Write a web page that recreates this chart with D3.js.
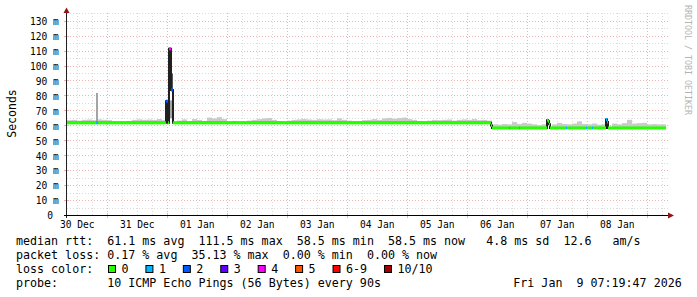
<!DOCTYPE html>
<html><head><meta charset="utf-8">
<script src="https://cdn.jsdelivr.net/npm/d3@7/dist/d3.min.js"></script>
<style>
html,body{margin:0;padding:0;background:#fff;}
svg{display:block;}
text{font-family:"DejaVu Sans Mono",monospace;white-space:pre;}
</style></head><body>
<svg id="chart" width="697" height="297"></svg>
<script>
// ---------- data ----------
const START = "2025-12-30T07:53:00Z";
const END = "2026-01-09T07:53:00Z";
const DATA_END = "2026-01-09T07:29:00Z";
const yTicks = [0,10,20,30,40,50,60,70,80,90,100,110,120,130];
const yMinorTicks = [5,15,25,35,45,55,65,75,85,95,105,115,125,135];

// smoke (highest ping) in 2-hour bins from START, ms
const smokeBinHours = 2;
const smokeTop = [
63.8,64.0,63.5,64.0,64.2,63.8,64.3,64.0,63.8,63.0,
63.0,63.0,63.3,64.0,64.3,64.0,64.2,64.0,64.5,63.8,
64.0,63.5,63.5,64.3,63.2,64.5,64.0,63.3,65.5,65.0,
65.8,64.5,63.0,63.3,63.0,63.0,63.5,64.0,64.5,65.0,
65.2,64.0,63.2,63.0,63.5,64.0,64.3,64.5,64.2,64.0,
64.4,64.2,64.3,63.8,65.0,64.0,63.5,63.0,63.2,63.8,
64.0,64.5,64.0,65.0,65.3,64.8,65.2,65.5,64.5,64.0,
63.3,63.0,63.5,64.0,63.8,64.0,64.2,63.5,64.0,64.3,
64.0,64.5,63.8,64.0,63.5,61.0,60.8,61.2,61.0,62.5,
61.3,62.0,61.5,61.0,60.5,61.0,60.8,61.0,62.0,61.2,
61.0,61.5,63.0,61.2,61.0,61.5,60.8,61.0,61.3,61.5,
61.0,61.8,64.0,61.5,61.8,62.0,61.0,61.2,61.0,61.0
];

// isolated smoke spikes
const spikeStart = ["2025-12-30T19:29:00Z","2026-01-01T00:41:00Z","2026-01-01T01:29:00Z"];
const spikeEnd   = ["2025-12-30T20:17:00Z","2026-01-01T01:53:00Z","2026-01-01T02:17:00Z"];
const spikeLow   = [62, 65, 84];
const spikeHigh  = [82, 77, 95];
const spikeDepth = [2, 2, 4];

// median rtt (step series) and lost pings out of 10
const medianTime = [
"2025-12-30T07:53:00Z","2025-12-30T19:29:00Z","2025-12-30T20:17:00Z",
"2025-12-31T23:29:00Z","2026-01-01T00:17:00Z","2026-01-01T00:41:00Z",
"2026-01-01T01:29:00Z","2026-01-01T02:17:00Z","2026-01-06T09:29:00Z",
"2026-01-06T09:53:00Z","2026-01-06T16:41:00Z","2026-01-06T17:05:00Z",
"2026-01-06T20:41:00Z","2026-01-06T21:05:00Z","2026-01-07T07:53:00Z",
"2026-01-07T08:17:00Z","2026-01-07T08:41:00Z","2026-01-07T09:05:00Z",
"2026-01-07T15:29:00Z","2026-01-07T15:53:00Z","2026-01-07T23:29:00Z",
"2026-01-07T23:53:00Z","2026-01-08T01:53:00Z","2026-01-08T02:17:00Z",
"2026-01-08T07:29:00Z","2026-01-08T07:53:00Z","2026-01-08T08:17:00Z",
"2026-01-09T07:29:00Z"];
const medianValue = [
62.0,62.0,62.0, 76.5,62.0,111.5, 84.0,62.0,60.3,
58.6,58.6,58.6, 58.6,58.6,63.8, 63.0,61.0,58.6,
58.6,58.6,58.6, 58.6,58.6,58.6, 64.3,62.5,58.6, 58.6];
const medianLoss = [
0,1,0, 2,0,4, 2,0,0,
0,1,0, 1,0,0, 0,0,0,
1,0,1, 0,1,0, 1,1,0, 0];

const lossLabels = ["0","1","2","3","4","5","6-9","10/10"];
const lossColors = ["#26ff00","#00b8ff","#0059ff","#5e00ff","#ff00ff","#ff5500","#ff0000","#a00000"];

const legendRtt  = "median rtt:  61.1 ms avg  111.5 ms max  58.5 ms min  58.5 ms now   4.8 ms sd  12.6   am/s";
const legendLoss = "packet loss: 0.17 % avg  35.13 % max  0.00 % min  0.00 % now";
const legendColorTitle = "loss color:";
const legendProbe = "probe:       10 ICMP Echo Pings (56 Bytes) every 90s";
const stamp = "Fri Jan  9 07:19:47 2026";
const yTitle = "Seconds";
const watermark = "RRDTOOL / TOBI OETIKER";

// ---------- drawing ----------
const svg = d3.select("#chart");
const parse = s => new Date(s);
const x = d3.scaleUtc().domain([parse(START), parse(END)]).range([67, 667]);
const y = d3.scaleLinear().domain([0, 135.5]).range([215.5, 13]);
const px = v => Math.floor(v) + 0.5;
const tEnd = parse(DATA_END);

const gridMinor = "#dcdcdc", gridMajor = "#eab4b4";
const g = svg.append("g");

// vertical grid
const hours6 = d3.utcHour.every(6).range(parse(START), parse(END));
const days = d3.utcDay.range(parse(START), parse(END));
g.selectAll(".vmin").data(hours6.filter(d => d.getUTCHours() !== 0)).join("line")
  .attr("x1", d => px(x(d))).attr("x2", d => px(x(d)))
  .attr("y1", 13).attr("y2", 215)
  .attr("stroke", gridMinor).attr("stroke-dasharray", "1,2");
g.selectAll(".vmaj").data(days).join("line")
  .attr("x1", d => px(x(d))).attr("x2", d => px(x(d)))
  .attr("y1", 13).attr("y2", 215)
  .attr("stroke", gridMajor).attr("stroke-dasharray", "1,2");
// horizontal grid
g.selectAll(".hmin").data(yMinorTicks.filter(v => y(v) > 13)).join("line")
  .attr("x1", 67).attr("x2", 668)
  .attr("y1", d => px(y(d))).attr("y2", d => px(y(d)))
  .attr("stroke", gridMinor).attr("stroke-dasharray", "1,2");
g.selectAll(".hmaj").data(yTicks.filter(v => v > 0)).join("line")
  .attr("x1", 67).attr("x2", 668)
  .attr("y1", d => px(y(d))).attr("y2", d => px(y(d)))
  .attr("stroke", gridMajor).attr("stroke-dasharray", "1,2");
// small ticks on axes
g.selectAll(".ytick").data(yTicks.filter(v => v > 0)).join("line")
  .attr("x1", 64).attr("x2", 69)
  .attr("y1", d => px(y(d))).attr("y2", d => px(y(d)))
  .attr("stroke", gridMajor);
g.selectAll(".xtick").data(days).join("line")
  .attr("x1", d => px(x(d))).attr("x2", d => px(x(d)))
  .attr("y1", 213).attr("y2", 218)
  .attr("stroke", gridMajor);

// median lookup
const mTimes = medianTime.map(parse);
const bis = d3.bisector(d => d).right;
const medianAt = t => medianValue[Math.max(0, bis(mTimes, t) - 1)];

// smoke
const plot = svg.append("g");
const binMs = smokeBinHours * 3600e3;
const smokeData = smokeTop.map((v, k) => {
  const t0 = new Date(parse(START).getTime() + k * binMs);
  let t1 = new Date(t0.getTime() + binMs);
  if (t1 > tEnd) t1 = tEnd;
  return {t0, t1, top: v, base: medianAt(t0)};
}).filter(d => d.t1 > d.t0);
plot.selectAll(".smoke").data(smokeData).join("rect")
  .attr("x", d => x(d.t0)).attr("width", d => x(d.t1) - x(d.t0))
  .attr("y", d => y(d.top)).attr("height", d => Math.max(0, y(d.base) - y(d.top)))
  .attr("fill", "#cacaca");
const shade = dpt => { const c = Math.round(190 / 5 * (5 - dpt)) + 50; return d3.rgb(c, c, c); };
plot.selectAll(".spike").data(spikeStart.map((s, i) => ({t0: parse(s), t1: parse(spikeEnd[i]), lo: spikeLow[i], hi: spikeHigh[i], d: spikeDepth[i]})))
  .join("rect")
  .attr("x", d => x(d.t0)).attr("width", d => x(d.t1) - x(d.t0))
  .attr("y", d => y(d.hi)).attr("height", d => y(d.lo) - y(d.hi))
  .attr("fill", d => shade(d.d));

// median line
const pts = mTimes.map((t, i) => ({t, v: medianValue[i], l: medianLoss[i]}));
plot.append("path").datum(pts)
  .attr("d", d3.line().x(d => x(d.t)).y(d => y(d.v)).curve(d3.curveStepAfter))
  .attr("fill", "none").attr("stroke", "#202020").attr("stroke-width", 2);

// loss coloured band
const lossIdx = l => l <= 5 ? l : (l < 10 ? 6 : 7);
plot.selectAll(".band").data(pts.slice(0, -1).map((d, i) => ({...d, t1: pts[i + 1].t})))
  .join("rect")
  .attr("x", d => x(d.t)).attr("width", d => x(d.t1) - x(d.t))
  .attr("y", d => y(d.v) - 1.5).attr("height", 3)
  .attr("fill", d => lossColors[lossIdx(d.l)]);

// axes
svg.append("line").attr("x1", 66.5).attr("x2", 66.5).attr("y1", 11).attr("y2", 218)
  .attr("stroke", "#202020");
svg.append("line").attr("x1", 64).attr("x2", 670).attr("y1", 215.5).attr("y2", 215.5)
  .attr("stroke", "#000");
svg.append("path").attr("d", d3.line()([[63.5, 13], [69.5, 13], [66.5, 7.5]]) + "Z").attr("fill", "#8e1616");
svg.append("path").attr("d", d3.line()([[668, 212.5], [668, 218.5], [674, 215.5]]) + "Z").attr("fill", "#8e1616");

// y labels
svg.selectAll(".ylab").data(yTicks).join("text")
  .attr("x", d => d === 0 ? 53 : 58.8).attr("y", d => y(d) + 3.8)
  .attr("text-anchor", "end").attr("font-size", "9.6px").attr("fill", "#000")
  .text(d => d === 0 ? "0" : d + " m");
// x labels (centred at noon of each day)
const fmt = d3.utcFormat("%d %b");
const labelDays = d3.utcDay.range(d3.utcDay.floor(parse(START)), parse(END))
  .map(d => d3.utcHour.offset(d, 12))
  .filter(d => d >= parse(START) && d <= parse(END));
svg.selectAll(".xlab").data(labelDays).join("text")
  .attr("x", d => x(d)).attr("y", 228)
  .attr("text-anchor", "middle").attr("font-size", "9.6px").attr("fill", "#000")
  .text(d => fmt(d));

// y title
svg.append("text").attr("transform", "translate(15.5,113.5) rotate(-90)")
  .attr("text-anchor", "middle").attr("font-size", "11.5px").text(yTitle);
// watermark
svg.append("text").attr("transform", "translate(685,5) rotate(90)")
  .attr("font-size", "8.3px").attr("fill", "#b4b4b4").text(watermark);

// legend
const lf = "11.67px", cw = 7.02, lx = 16;
const leg = svg.append("g").attr("font-size", lf).attr("fill", "#000");
leg.append("text").attr("x", lx).attr("y", 245).text(legendRtt);
leg.append("text").attr("x", lx).attr("y", 259).text(legendLoss);
leg.append("text").attr("x", lx).attr("y", 273).text(legendColorTitle);
leg.append("text").attr("x", lx).attr("y", 287).text(legendProbe);
leg.append("text").attr("x", 513.3).attr("y", 287).text(stamp);
let bx = 108;
lossLabels.forEach((lab, i) => {
  leg.append("rect").attr("x", bx + 0.5).attr("y", 265.5).attr("width", 7).attr("height", 7)
    .attr("fill", lossColors[i]).attr("stroke", "#000").attr("stroke-width", 1);
  leg.append("text").attr("x", bx + 13.5).attr("y", 273).text(lab);
  bx = bx + 13.5 + lab.length * cw + 16.9;
});
</script>
</body></html>
